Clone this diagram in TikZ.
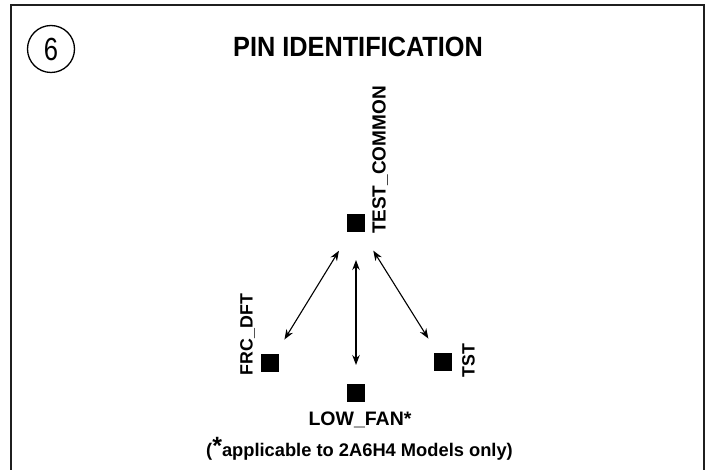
\documentclass[tikz,border=0pt]{standalone}
\usepackage{fontspec}
\setmainfont{Liberation Sans}
\usetikzlibrary{arrows.meta}
\begin{document}
\begin{tikzpicture}[x=1pt,y=-1pt,
  pin/.style={fill=black,draw=none,minimum size=18pt,inner sep=0pt,outer sep=0pt},
  lbl/.style={inner sep=0pt,outer sep=0pt,font=\bfseries},
  conn/.style={line width=1.1pt,{Stealth[length=10pt,width=7.5pt]}-{Stealth[length=10pt,width=7.5pt]}},
  frame/.style={line width=2.6pt,draw=black!88}]
\useasboundingbox (0,0) rectangle (709,470);
\draw[frame] (11,475) -- (11,5) -- (704,5) -- (704,475);
\node[circle,draw,line width=1.3pt,minimum size=47pt,inner sep=0pt] (num) at (51,49) {};
\node[inner sep=0pt] at (num.center) {\scalebox{0.8}[1]{\fontsize{32}{32}\selectfont 6}};
\node[lbl,anchor=base,font=\bfseries\fontsize{25.3}{25}\selectfont] (title) at (358,57) {\scalebox{1}[1.1]{PIN IDENTIFICATION}};
\node[pin] (tc) at (356,223) {};
\node[pin] (frc) at (270,363) {};
\node[pin] (tst) at (443,362) {};
\node[pin] (low) at (356,393) {};
\node[lbl,rotate=90,anchor=base west,font=\bfseries\fontsize{19}{19}\selectfont] (tcl) at (385.5,234) {TEST\_COMMON};
\node[lbl,rotate=90,anchor=base west,font=\bfseries\fontsize{17.8}{17.8}\selectfont] (frcl) at (252.5,375) {FRC\_DFT};
\node[lbl,rotate=90,anchor=base west,font=\bfseries\fontsize{17.8}{17.8}\selectfont] (tstl) at (474.5,377) {TST};
\node[lbl,anchor=base,font=\bfseries\fontsize{19.5}{19.5}\selectfont] (lowl) at (360,425) {LOW\_FAN*};
\node[lbl,anchor=base,font=\bfseries\fontsize{18.3}{18.3}\selectfont] (note) at (359.5,456) {(\raisebox{2pt}{\fontsize{25}{25}\selectfont *}applicable to 2A6H4 Models only)};
\draw[conn,shorten <=22pt,shorten >=17pt] (tc) -- (frc);
\draw[conn,shorten <=22pt,shorten >=17pt] (tc) -- (tst);
\draw[conn,shorten <=28pt,shorten >=19pt] (tc) -- (low);
\end{tikzpicture}
\end{document}
